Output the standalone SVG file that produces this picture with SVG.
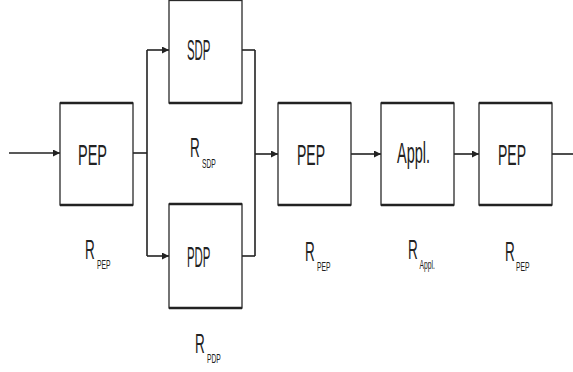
<svg xmlns="http://www.w3.org/2000/svg" width="573" height="372" viewBox="0 0 573 372">
<style>
.box{fill:#fff;stroke:#2a2a2a;stroke-width:1.3}
.edge{stroke:#222;stroke-width:2.6}
.lbl{font-family:"Liberation Sans",Arial,sans-serif;font-size:29px;fill:#222}
.r{font-family:"Liberation Sans",Arial,sans-serif;font-size:27px;fill:#222}
.sub{font-size:13.5px}
.con{fill:none;stroke:#222;stroke-width:1.6}
</style>
<defs>
<marker id="ah" viewBox="0 0 10 10" refX="10" refY="5" markerWidth="7" markerHeight="7" markerUnits="userSpaceOnUse" orient="auto">
<path d="M0,0 L10,5 L0,10 z" fill="#222"/>
</marker>
</defs>
<rect width="573" height="372" fill="#fff"/>
<g id="connectors">
<line class="con" x1="9" y1="153" x2="60" y2="153" marker-end="url(#ah)"/>
<line class="con" x1="133" y1="153" x2="147" y2="153"/>
<line class="con" x1="147" y1="50" x2="147" y2="256"/>
<line class="con" x1="147" y1="50" x2="169" y2="50" marker-end="url(#ah)"/>
<line class="con" x1="147" y1="256" x2="169" y2="256" marker-end="url(#ah)"/>
<line class="con" x1="242" y1="50" x2="255" y2="50"/>
<line class="con" x1="242" y1="256" x2="255" y2="256"/>
<line class="con" x1="255" y1="50" x2="255" y2="256"/>
<line class="con" x1="255" y1="154" x2="278" y2="154" marker-end="url(#ah)"/>
<line class="con" x1="351" y1="154" x2="381" y2="154" marker-end="url(#ah)"/>
<line class="con" x1="454" y1="154" x2="479" y2="154" marker-end="url(#ah)"/>
<line class="con" x1="552" y1="154" x2="573" y2="154"/>
</g>
<g id="pep1">
<rect class="box" x="60" y="103" width="73" height="102"/>
<line class="edge" x1="60" y1="103" x2="133" y2="103"/><line class="edge" x1="60" y1="205" x2="133" y2="205"/>
<text class="lbl" x="78" y="165" textLength="29" lengthAdjust="spacingAndGlyphs">PEP</text>
<text class="r" transform="translate(85,259) scale(0.5,1)">R<tspan class="sub" x="24" y="10">PEP</tspan></text>
</g>
<g id="sdp">
<rect class="box" x="169" y="0.5" width="73" height="102.5"/>
<line class="edge" x1="169" y1="103" x2="242" y2="103"/>
<text class="lbl" x="187" y="60" textLength="23.5" lengthAdjust="spacingAndGlyphs">SDP</text>
<text class="r" transform="translate(190,157) scale(0.5,1)">R<tspan class="sub" x="24" y="11">SDP</tspan></text>
</g>
<g id="pdp">
<rect class="box" x="169" y="204" width="73" height="104"/>
<line class="edge" x1="169" y1="204" x2="242" y2="204"/><line class="edge" x1="169" y1="308" x2="242" y2="308"/>
<text class="lbl" x="187" y="267" textLength="23.5" lengthAdjust="spacingAndGlyphs">PDP</text>
<text class="r" transform="translate(195,353) scale(0.5,1)">R<tspan class="sub" x="24" y="10">PDP</tspan></text>
</g>
<g id="pep2">
<rect class="box" x="278" y="103" width="73" height="102"/>
<line class="edge" x1="278" y1="103" x2="351" y2="103"/><line class="edge" x1="278" y1="205" x2="351" y2="205"/>
<text class="lbl" x="297" y="165" textLength="28" lengthAdjust="spacingAndGlyphs">PEP</text>
<text class="r" transform="translate(305,261) scale(0.5,1)">R<tspan class="sub" x="24" y="10">PEP</tspan></text>
</g>
<g id="appl">
<rect class="box" x="381" y="103" width="73" height="102"/>
<line class="edge" x1="381" y1="103" x2="454" y2="103"/><line class="edge" x1="381" y1="205" x2="454" y2="205"/>
<text class="lbl" x="397" y="163" textLength="33" lengthAdjust="spacingAndGlyphs">Appl.</text>
<text class="r" transform="translate(408,259) scale(0.5,1)">R<tspan class="sub" x="23" y="10">Appl.</tspan></text>
</g>
<g id="pep3">
<rect class="box" x="479" y="103" width="73" height="102"/>
<line class="edge" x1="479" y1="103" x2="552" y2="103"/><line class="edge" x1="479" y1="205" x2="552" y2="205"/>
<text class="lbl" x="498" y="165" textLength="28" lengthAdjust="spacingAndGlyphs">PEP</text>
<text class="r" transform="translate(505,261) scale(0.5,1)">R<tspan class="sub" x="22" y="10">PEP</tspan></text>
</g>
</svg>
